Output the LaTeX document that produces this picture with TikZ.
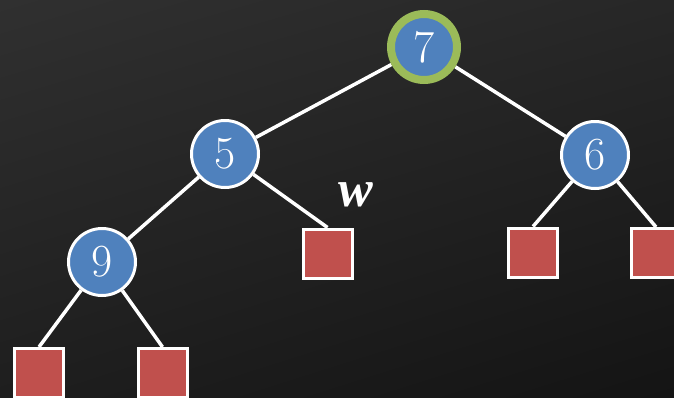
\documentclass[tikz,border=0pt]{standalone}
\usepackage{tikz}
\usepackage{fontspec}
\newfontfamily\wfont{Liberation Serif}
\usetikzlibrary{shadings}
\definecolor{nodeblue}{HTML}{4F81BD}
\definecolor{leafred}{HTML}{C0504D}
\definecolor{rootgreen}{HTML}{9BBB59}
\definecolor{bgA}{HTML}{303030}
\definecolor{bgB}{HTML}{272727}
\definecolor{bgC}{HTML}{1E1E1E}
\definecolor{bgD}{HTML}{141414}
\pgfdeclarelayer{bglayer}
\pgfdeclarelayer{edgelayer}
\pgfsetlayers{bglayer,edgelayer,main}
\tikzset{
  inner/.style={circle, fill=nodeblue, draw=white, line width=3pt, minimum size=67pt, inner sep=0pt, text=white, font=\fontsize{46}{46}\selectfont},
  rootnode/.style={circle, fill=nodeblue, draw=rootgreen, line width=8pt, minimum size=66pt, inner sep=0pt, text=white, font=\fontsize{46}{46}\selectfont},
  leaf/.style={rectangle, fill=leafred, draw=white, line width=3pt, minimum size=49pt, inner sep=0pt},
  edge/.style={draw=white, line width=3.5pt},
}
\begin{document}
\begin{tikzpicture}[x=1pt,y=-1pt]
\useasboundingbox (0,0) rectangle (674,397);
\clip (0,0) rectangle (674,397);
\begin{pgfonlayer}{bglayer}
\shade[upper left=bgA, upper right=bgB, lower left=bgC, lower right=bgD] (0,0) rectangle (674,397);
\end{pgfonlayer}
\node[rootnode] (r) at (424,47) {7};
\node[inner] (a) at (225,154) {5};
\node[inner] (b) at (595,155) {6};
\node[inner] (c) at (102,262) {9};
\node[leaf] (s1) at (39,373) {};
\node[leaf] (s2) at (162.5,373) {};
\node[leaf] (sw) at (327.5,253.5) {};
\node[leaf] (s3) at (533,252.5) {};
\node[leaf] (s4) at (656,253) {};
\node[text=white, font=\wfont\fontsize{52}{52}\selectfont\bfseries\itshape] (wl) at (356,195) {w};
\begin{pgfonlayer}{edgelayer}
\draw[edge] (r) -- (a);
\draw[edge] (r) -- (b);
\draw[edge] (a) -- (c);
\draw[edge] (a) -- (sw.north);
\draw[edge] (c) -- (s1.north);
\draw[edge] (c) -- (s2.north);
\draw[edge] (b) -- (s3.north);
\draw[edge] (b) -- (s4.north);
\end{pgfonlayer}
\end{tikzpicture}
\end{document}
